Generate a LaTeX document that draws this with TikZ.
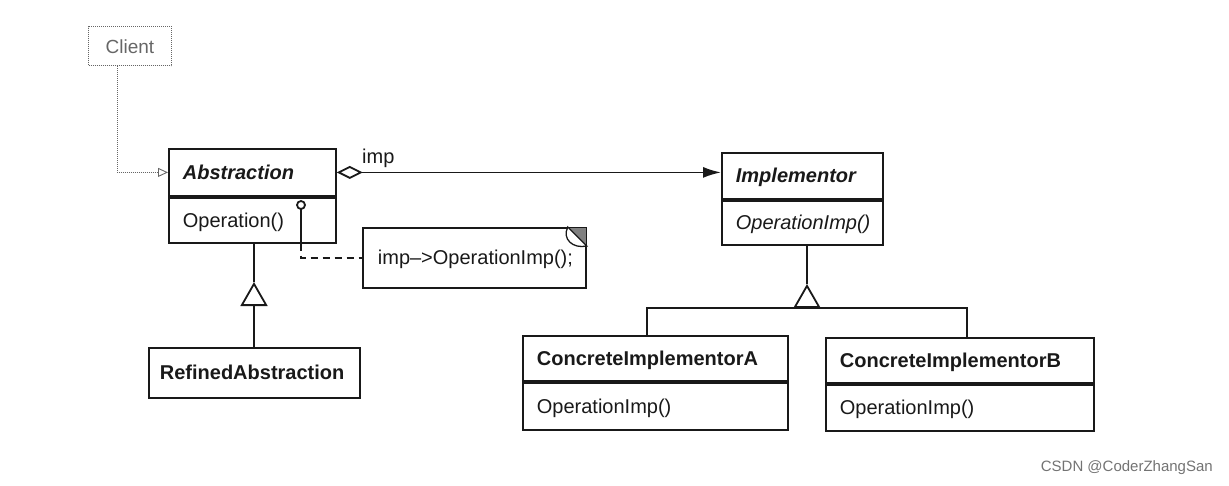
\documentclass[tikz,border=0pt]{standalone}
\usepackage{fontspec}
\setmainfont{Liberation Sans}
\usetikzlibrary{arrows.meta,calc}
\begin{document}
\begin{tikzpicture}[x=1pt,y=-1pt,
  ln/.style={line width=1.8pt, draw=black!90},
  cbox/.style={ln, rectangle, anchor=north west, inner xsep=14pt, inner ysep=0pt,
    text height=14pt, text depth=0pt,
    align=left, font=\fontsize{20}{22}\selectfont, text=black!90},
  dashln/.style={line width=1.8pt, draw=black!90, dash pattern=on 7pt off 5pt},
  inh/.style={ln, -{Triangle[open, length=24pt, width=27pt, line width=1.8pt]}},
]
\useasboundingbox (0,0) rectangle (1229,485);

% Client
\node[draw=black!60, densely dotted, line width=1pt, rectangle, anchor=north west,
  minimum width=83pt, minimum height=39pt, inner sep=0pt, text height=14pt, text depth=0pt,
  font=\fontsize{19}{21}\selectfont, text=black!60] (client) at (88,26) {Client};

% Abstraction
\node[cbox, text width=139pt, minimum height=47pt, font=\fontsize{20}{22}\selectfont\bfseries\itshape]
  (abs) at (168,148) {Abstraction};
\node[cbox, text width=139pt, minimum height=45pt] (absop) at (abs.south west) {Operation()};

% Implementor
\node[cbox, text width=133pt, minimum height=46pt, font=\fontsize{20}{22}\selectfont\bfseries\itshape]
  (impl) at (721,152) {Implementor};
\node[cbox, text width=133pt, minimum height=44pt, font=\fontsize{20}{22}\selectfont\itshape]
  (implop) at (impl.south west) {OperationImp()};

% RefinedAbstraction
\node[cbox, minimum height=50pt, inner xsep=11pt, text width=189pt,
  font=\fontsize{20}{22}\selectfont\bfseries]
  (refined) at (148,347) {RefinedAbstraction};

% ConcreteImplementorA
\node[cbox, text width=237pt, minimum height=45pt, font=\fontsize{20}{22}\selectfont\bfseries]
  (ca) at (522,335) {ConcreteImplementorA};
\node[cbox, text width=237pt, minimum height=47pt] (caop) at (ca.south west) {OperationImp()};

% ConcreteImplementorB
\node[cbox, text width=240pt, minimum height=45pt, font=\fontsize{20}{22}\selectfont\bfseries]
  (cb) at (825,337) {ConcreteImplementorB};
\node[cbox, text width=240pt, minimum height=46pt] (cbop) at (cb.south west) {OperationImp()};

% Note
\node[cbox, text width=193pt, minimum height=60pt, inner xsep=15pt, align=left] (note) at (362,227)
  {\mbox{imp--{>}OperationImp();}};
\coordinate (fa) at ($(note.north east)+(-19,0)$);
\coordinate (fb) at ($(note.north east)+(0,19)$);
\fill[black!50] ($(fa)+(1,1)$) -- ($(note.north east)+(-1,1)$) -- ($(fb)+(-1,-1)$) -- cycle;
\draw[line width=1.3pt, black!90, fill=white] (fa)
  .. controls ($(fa)+(-6,12)$) and ($(fb)+(-14,3)$) .. (fb) -- cycle;

% Client -> Abstraction
\coordinate (cl) at ($(client.south west)+(29,0)$);
\draw[black!60, densely dotted, line width=1pt, -{Triangle[open, length=10pt, width=9pt, line width=0.9pt]}]
  (cl) |- (abs.west);

% Aggregation
\draw[ln, {Diamond[open, length=26pt, width=13pt, line width=1.8pt]}-{Latex[length=18pt, width=11pt]}]
  (abs.east) -- (abs.east -| impl.west);
\node[font=\fontsize{20}{22}\selectfont, anchor=base west, inner sep=0pt, text=black!90] (implbl) at (362,163) {imp};

% Lollipop and dashed note link
\coordinate (lp) at (301,205);
\draw[line width=1.8pt, black!90] (lp) circle (4pt);
\coordinate (lpb) at (lp |- absop.south);
\draw[ln] ($(lp)+(0,4)$) -- (lpb);
\draw[dashln] (lpb) |- (note.west);

% Abstraction inheritance
\coordinate (absbase) at (254,307);
\coordinate (absapex) at (254,282);
\draw[inh] (absbase) -- (absapex);
\draw[ln] (absapex) -- (absop.south -| absapex);
\draw[ln] (absbase) -- (refined.north -| absbase);

% Implementor inheritance
\coordinate (ibase) at (807,308);
\coordinate (iapex) at (807,284);
\draw[inh] (ibase) -- (iapex);
\draw[ln] (iapex) -- (implop.south -| iapex);
\coordinate (barA) at (647,308);
\coordinate (barB) at (967,308);
\draw[ln] (ca.north -| barA) -- (barA) -- (barB) -- (cb.north -| barB);

% Watermark
\node[font=\fontsize{15}{17}\selectfont, text=black!55, anchor=base east, inner sep=0pt] (wm) at (1213,471) {CSDN @CoderZhangSan};
\end{tikzpicture}
\end{document}
